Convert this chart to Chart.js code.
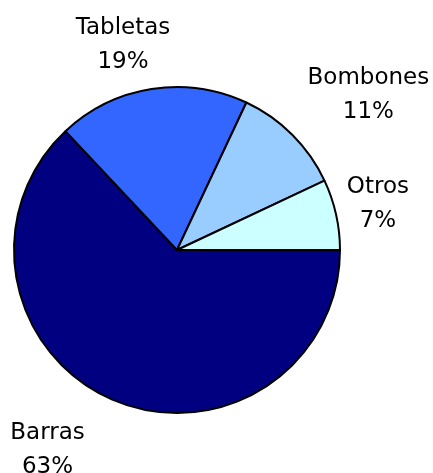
<!DOCTYPE html>
<html>
<head>
<meta charset="utf-8">
<script src="https://cdn.jsdelivr.net/npm/chart.js@4"></script>
<style>
    body { margin: 0; background: #fff; }
    #canvas { width: 433px; height: 473px; }
</style>
</head>
<body>
<div id="canvas"><canvas id="myChart"></canvas></div>
<script>
const categories = ['Barras', 'Tabletas', 'Bombones', 'Otros'];
const shares = [63, 19, 11, 7];
const colors = ['#000080', '#3366FF', '#99CCFF', '#CCFFFF'];

// small hand nudges so the labels sit where the old spreadsheet put them
const labelNudge = [[-42, 4], [-18, -1], [19, -10], [-8, -3]];

const outsideLabels = {
    id: 'outsideLabels',
    afterDraw(chart) {
        const ctx = chart.ctx;
        const arcs = chart.getDatasetMeta(0).data;
        ctx.save();
        ctx.font = '23px "DejaVu Sans"';
        ctx.fillStyle = '#000';
        ctx.textAlign = 'center';
        ctx.textBaseline = 'alphabetic';
        arcs.forEach((arc, i) => {
            const mid = (arc.startAngle + arc.endAngle) / 2;
            const ux = Math.cos(mid), uy = Math.sin(mid);
            const line1 = categories[i];
            const line2 = shares[i] + '%';
            const w = Math.max(ctx.measureText(line1).width, ctx.measureText(line2).width);
            const h = 54;
            const gap = 20;
            const cx = arc.x + (arc.outerRadius + gap) * ux + w / 2 * ux + labelNudge[i][0];
            const cy = arc.y + (arc.outerRadius + gap) * uy + h / 2 * uy + labelNudge[i][1];
            ctx.fillText(line1, cx, cy - 8);
            ctx.fillText(line2, cx, cy + 26);
        });
        ctx.restore();
    }
};

const ctx = document.getElementById('myChart');
new Chart(ctx, {
    type: 'pie',
    data: {
        labels: categories,
        datasets: [{
            data: shares,
            backgroundColor: colors,
            borderColor: '#000',
            borderWidth: 2
        }]
    },
    options: {
        responsive: true,
        maintainAspectRatio: false,
        animation: false,
        rotation: 90,
        layout: { padding: { left: 13, right: 92, top: 86, bottom: 59 } },
        plugins: {
            legend: { display: false },
            tooltip: { enabled: false }
        }
    },
    plugins: [outsideLabels]
});
</script>
</body>
</html>
